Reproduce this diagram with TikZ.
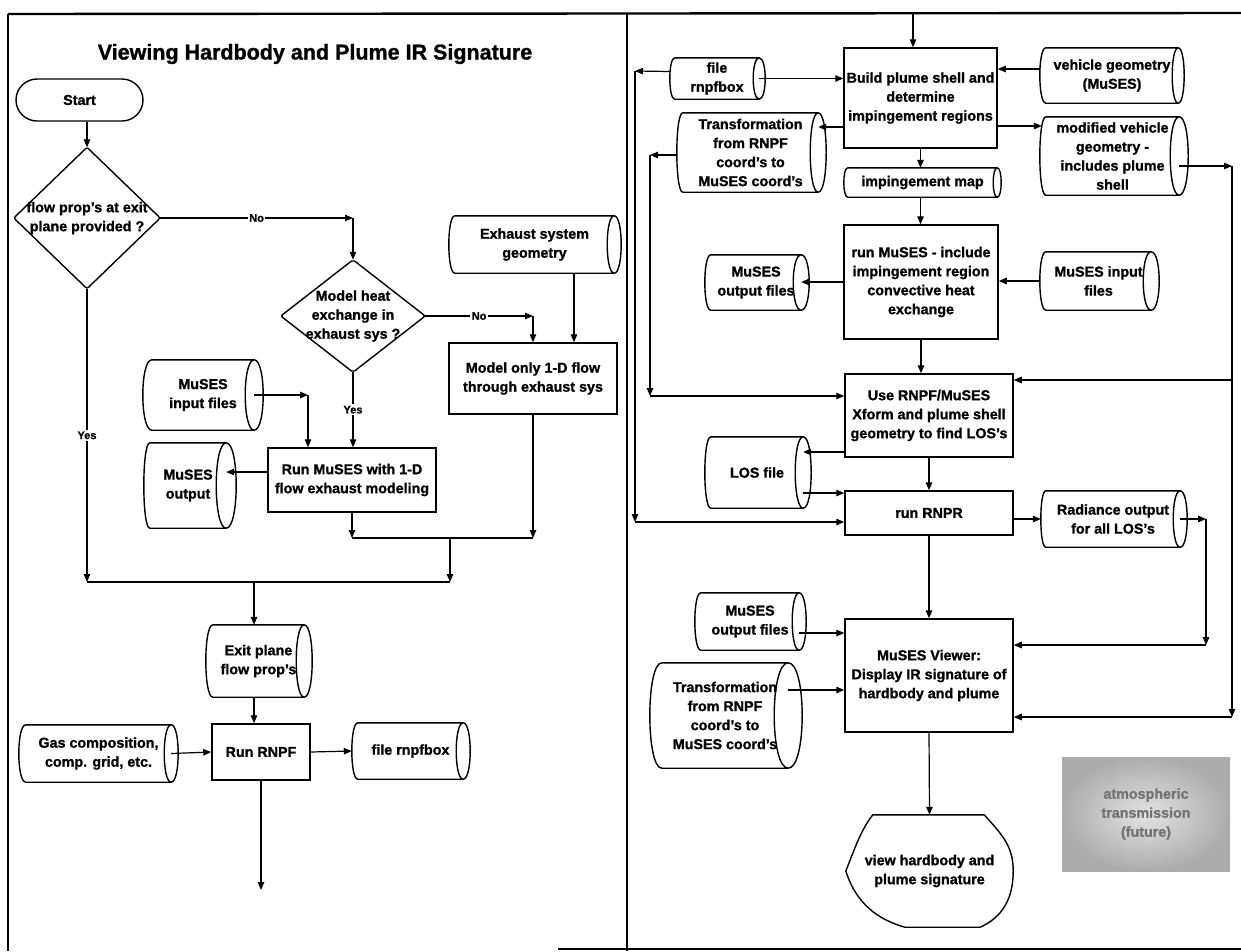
\documentclass[tikz,border=0pt]{standalone}
\usepackage{fontspec}
\setmainfont{Liberation Sans}[BoldFeatures={FakeBold=1.2}]
\usetikzlibrary{arrows.meta,calc}
\newcommand\cylout[3]{\draw[boxline] (#1.north west) .. controls +(-1.333*#2,0) and +(-1.333*#2,0) .. (#1.south west) -- (#1.south east) .. controls +(1.333*#3,0) and +(1.333*#3,0) .. (#1.north east) .. controls +(-1.333*#3,0) and +(-1.333*#3,0) .. (#1.south east) (#1.north east) -- (#1.north west);}
\tikzset{
  boxline/.style={line width=1.4pt},
  proc/.style={draw, line width=1.5pt, inner sep=1pt, align=center},
  stor/.style={inner sep=0pt, align=center},
  arr/.style={line width=1.2pt, -{Triangle[length=8pt,width=6.5pt]}},
  ln/.style={line width=1.2pt},
  lbl/.style={fill=white, inner sep=1.5pt, font=\fontsize{11}{12}\selectfont\bfseries},
  frame/.style={line width=2.4pt},
}
\begin{document}
\begin{tikzpicture}[x=1pt,y=-1pt, every node/.style={font=\fontsize{14.3}{19}\selectfont\bfseries}]
\useasboundingbox (0,0) rectangle (1241,951);
% frame
\draw[frame] (8,14) -- (1241,13);
\draw[line width=2pt] (8,14) -- (8,951);
\draw[frame] (627,13) -- (627,951);
\draw[frame] (558,949) -- (1241,949);
% title
\node (title) at (315,54) {\fontsize{21.5}{24}\selectfont Viewing Hardbody and Plume IR Signature};
% ---------------- left panel
\node[draw, line width=1.4pt, rounded corners=21pt, minimum width=127, minimum height=42, inner sep=0pt] (start) at (79.5,100) {Start};
\node[stor, minimum width=146, minimum height=141] (d1) at (87,218) {flow prop's at exit\\plane provided ?};
\draw[boxline, rounded corners=2pt] (d1.north) -- (d1.east) -- (d1.south) -- (d1.west) -- cycle;
\node[stor, minimum width=144, minimum height=112] (d2) at (353,316) {Model heat\\exchange in\\exhaust sys ?};
\draw[boxline, rounded corners=2pt] (d2.north) -- (d2.east) -- (d2.south) -- (d2.west) -- cycle;
\node[stor, minimum width=159, minimum height=57] (exh) at (534.5,244.5) {Exhaust system\\geometry};
\cylout{exh}{6}{7}
\node[proc, minimum width=168, minimum height=71] (b1) at (533,378.5) {Model only 1-D flow\\through exhaust sys};
\node[stor, minimum width=102, minimum height=70] (min) at (203,395) {MuSES\\input files};
\cylout{min}{9}{9}
\node[proc, minimum width=168, minimum height=64] (b2) at (352,480) {Run MuSES with 1-D\\flow exhaust modeling};
\node[stor, minimum width=76, minimum height=85] (mout) at (188,485.5) {MuSES\\output};
\cylout{mout}{6}{10}
\node[stor, minimum width=91, minimum height=72] (exit) at (258.5,661) {Exit plane\\flow prop's};
\cylout{exit}{7}{8}
\node[proc, minimum width=98, minimum height=56] (b3) at (261,752) {Run RNPF};
\node[stor, minimum width=145, minimum height=57] (gas) at (98.5,753.5) {Gas composition,\\comp. grid, etc.};
\cylout{gas}{7}{7}
\node[stor, minimum width=105, minimum height=56] (frnpf) at (410.5,751) {file rnpfbox};
\cylout{frnpf}{6}{7}
% left connectors
\draw[arr] (start.south -| d1.north) -- (d1.north);
\coordinate (c1) at (d2.north |- d1.east);
\draw[arr] (d1.east) -- node[lbl]{No} (c1);
\draw[arr] (c1) -- (d2.north);
\coordinate (c2) at (b1.north |- d2.east);
\draw[arr] (d2.east) -- node[lbl]{No} (c2);
\draw[arr] (c2) -- (b1.north);
\coordinate (xe) at (574,0);
\draw[arr] (exh.south -| xe) -- (b1.north -| xe);
\draw[arr] (d2.south) -- node[lbl]{Yes} (d2.south |- b2.north);
\coordinate (c3) at (308,395);
\draw[arr] (min.east) -- (c3);
\draw[arr] (c3) -- (c3 |- b2.north);
\coordinate (p1) at ([yshift=8]b2.west);
\draw[arr] (p1) -- (p1 -| mout.east);
\coordinate (j1) at (352,538);
\draw[arr] (b2.south) -- (b2.south |- j1);
\draw[arr] (b1.south) -- (b1.south |- j1);
\draw[ln] (b2.south |- j1) -- (b1.south |- j1);
\coordinate (j3) at (450,538);
\coordinate (j4) at (450,582);
\draw[arr] (j3) -- (j4);
\draw[arr] (d1.south) -- node[lbl]{Yes} (d1.south |- j4);
\draw[ln] (d1.south |- j4) -- (j4);
\coordinate (xm) at (254,582);
\draw[arr] (xm) -- (xm |- exit.north);
\draw[arr] (xm |- exit.south) -- (xm |- b3.north);
\draw[arr] (gas.east) -- (b3.west);
\draw[arr] (b3.east) -- ([xshift=-6]frnpf.west);
\coordinate (endL) at (261,890);
\draw[arr] (b3.south) -- (endL);
% ---------------- right panel
\node[proc, minimum width=153, minimum height=100] (r1) at (920.5,98) {Build plume shell and\\determine\\impingement regions};
\node[stor, minimum width=84, minimum height=41] (frnpf2) at (717,78.5) {file\\rnpfbox};
\cylout{frnpf2}{5}{6}
\node[stor, minimum width=132, minimum height=55] (veh) at (1112,75.5) {vehicle geometry\\(MuSES)};
\cylout{veh}{6}{6}
\node[stor, minimum width=135, minimum height=79] (trf1) at (750.5,152.5) {Transformation\\from RNPF\\coord's to\\MuSES coord's};
\cylout{trf1}{6}{8}
\node[stor, minimum width=133, minimum height=78] (mod) at (1112.5,156) {modified vehicle\\geometry -\\includes plume\\shell};
\cylout{mod}{6}{9}
\node[stor, minimum width=149, minimum height=29] (imp) at (922.5,182.5) {impingement map};
\cylout{imp}{4}{4}
\node[proc, minimum width=154, minimum height=114] (r2) at (921,282) {run MuSES - include\\impingement region\\convective heat\\exchange};
\node[stor, minimum width=90, minimum height=55] (mof) at (756,282.5) {MuSES\\output files};
\cylout{mof}{6}{8}
\node[stor, minimum width=105, minimum height=58] (mif) at (1098.5,281) {MuSES input\\files};
\cylout{mif}{6}{8}
\node[proc, minimum width=168, minimum height=83] (r3) at (929,415.5) {Use RNPF/MuSES\\Xform and plume shell\\geometry to find LOS's};
\node[stor, minimum width=92, minimum height=71] (los) at (757,472.5) {LOS file};
\cylout{los}{6}{8}
\node[proc, minimum width=168, minimum height=44] (r4) at (929,513) {run RNPR};
\node[stor, minimum width=134, minimum height=56] (rad) at (1113,519) {Radiance output\\for all LOS's};
\cylout{rad}{5}{7}
\node[stor, minimum width=98, minimum height=57] (mof2) at (750,621.5) {MuSES\\output files};
\cylout{mof2}{6}{7}
\node[proc, minimum width=168, minimum height=113] (r5) at (929,675.5) {MuSES Viewer:\\Display IR signature of\\hardbody and plume};
\node[stor, minimum width=126, minimum height=105] (trf2) at (725,715.5) {Transformation\\from RNPF\\coord's to\\MuSES coord's};
\cylout{trf2}{12}{14}
\node[stor, minimum width=167, minimum height=112] (disp) at (929.5,871) {view hardbody and\\plume signature};
\draw[boxline] ($(disp.north west)+(27,0)$) -- ($(disp.north east)+(-29,0)$)
  .. controls +(18,20) and +(0,-25) .. (disp.east)
  .. controls +(0,28) and +(22,-10) .. ($(disp.south east)+(-33,0)$)
  -- ($(disp.south west)+(59,0)$)
  .. controls +(-35,-10) and +(8,25) .. (disp.west)
  .. controls +(8,-20) and +(-12,15) .. ($(disp.north west)+(27,0)$) -- cycle;
\shade[inner color=gray!22, outer color=gray!65] (1062,757) rectangle (1230,871);
\node[align=center, text=black!55] (atm) at (1146,814) {atmospheric\\transmission\\(future)};
% right connectors
\coordinate (topin) at (913,13);
\draw[arr] (topin) -- (topin |- r1.north);
\draw[arr] (frnpf2.east) -- (frnpf2.east -| r1.west);
\coordinate (k1) at (635,71);
\draw[arr] ([xshift=-5,yshift=7]frnpf2.west) -- (k1);
\coordinate (k2) at (635,522);
\draw[arr] (k1) -- (k2);
\draw[arr] (k2) -- (k2 -| r4.west);
\coordinate (p2) at ([yshift=6.5]veh.west);
\draw[arr] ([xshift=-6]p2) -- (p2 -| r1.east);
\coordinate (p3) at ([yshift=-29]r1.west);
\draw[arr] (p3) -- (p3 -| trf1.east);
\coordinate (k3) at (650,155);
\draw[arr] ([xshift=-6,yshift=-2.5]trf1.west) -- (k3);
\coordinate (k4) at (650,396);
\draw[arr] (k3) -- (k4);
\draw[arr] (k4) -- (k4 -| r3.west);
\coordinate (p4) at ([yshift=-28]r1.east);
\draw[arr] (p4) -- ([xshift=-4]p4 -| mod.west);
\coordinate (k5) at (1232,166);
\coordinate (k6) at (1232,717);
\coordinate (k7) at (1232,380);
\draw[arr] ([yshift=-10]mod.east) -- (k5);
\draw[arr] (k5) -- (k6);
\draw[arr] (k6) -- (k6 -| r5.east);
\draw[arr] (k7) -- (k7 -| r3.east);
\draw[arr] (r1.south) -- (r1.south |- imp.north);
\draw[arr] (imp.south -| r1.south) -- (r1.south |- r2.north);
\draw[arr] (r2.west) -- (r2.west -| mof.east);
\draw[arr] ([xshift=-6]mif.west) -- (mif.west -| r2.east);
\draw[arr] (r2.south) -- (r2.south |- r3.north);
\coordinate (p5) at ([yshift=-36.5]r3.west);
\draw[arr] (p5) -- (p5 -| los.east);
\coordinate (p6) at ([yshift=20]r4.west);
\draw[arr] (p6 -| los.east) -- (p6);
\draw[arr] (r3.south) -- (r4.north);
\draw[arr] (rad.west -| r4.east) -- ([xshift=-5]rad.west);
\coordinate (k8) at (1206,519);
\coordinate (k9) at (1206,645);
\draw[arr] (rad.east) -- (k8);
\draw[arr] (k8) -- (k9);
\draw[arr] (k9) -- (k9 -| r5.east);
\draw[arr] (r4.south) -- (r5.north);
\coordinate (p7) at ([yshift=-11.5]mof2.east);
\draw[arr] (p7) -- (p7 -| r5.west);
\coordinate (p8) at ([yshift=25.5]trf2.east);
\draw[arr] (p8) -- (p8 -| r5.west);
\draw[arr] (r5.south) -- (disp.north);
\end{tikzpicture}
\end{document}
